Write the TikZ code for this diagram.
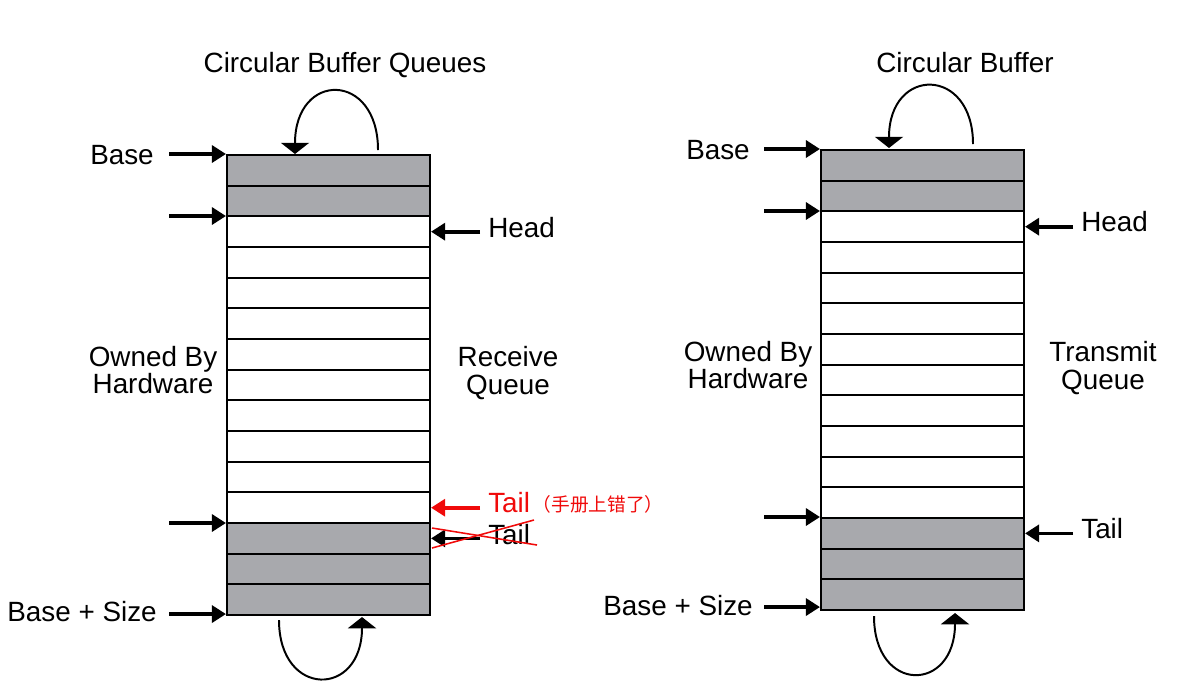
\documentclass[tikz,border=0pt]{standalone}
\usepackage{fontspec}
\setmainfont{Liberation Sans}
\newfontfamily\cjk{Noto Sans CJK SC}
\usepackage{tikz}
\usetikzlibrary{arrows.meta,calc}
\definecolor{cellgray}{RGB}{168,169,173}
\definecolor{tailred}{RGB}{240,10,10}

\tikzset{
  cell/.style={draw, line width=1.4pt, minimum width=5.075cm, minimum height=0.767cm, inner sep=0pt},
  ptr/.style={line width=2.6pt, -{Triangle[length=10pt,width=12pt]}},
  wraparc/.style={line width=1.4pt, -{Triangle[length=8pt,width=20pt]}},
  lbl/.style={font=\fontsize{19.8}{19.5}\selectfont, inner sep=0pt, align=center},
}

\begin{document}
\begin{tikzpicture}[x=0.025cm, y=-0.025cm]
    \useasboundingbox (0,0) rectangle (1200,687);

    % Receive queue (left)
    \foreach \i in {2,...,11}
        \node[cell, fill=white] (L\i) at (328.5,{170.33+30.67*\i}) {};
    \foreach \i in {0,1,12,13,14}
        \node[cell, fill=cellgray] (L\i) at (328.5,{170.33+30.67*\i}) {};

    \node[lbl, anchor=base] (ltitle) at (345,72) {Circular Buffer Queues};
    \node[lbl, anchor=base east] (lbase) at (154,164) {Base};
    \node[lbl, anchor=base east] (lsize) at (157,621) {Base + Size};
    \node[lbl] (lown) at (153,370) {Owned By\\Hardware};
    \node[lbl] (lrecv) at (508,373) {Receive\\Queue};
    \node[lbl, anchor=base west] (lhead) at (488,237) {Head};
    \node[lbl, anchor=base west, text=tailred] (ltailr) at (488,512) {Tail};
    \node[anchor=base west, inner sep=0pt, text=tailred, font=\cjk\fontsize{13.3}{15}\selectfont] (lnote) at ($(ltailr.base east)+(2,-1)$) {（手册上错了）};
    \node[lbl, anchor=base west] (ltail) at (488,544) {Tail};

    \coordinate (lp2) at (169,216);
    \coordinate (lp12) at (169,523);

    \draw[ptr] ($(lbase.east |- L0.north west)+(15,0)$) -- (L0.north west);
    \draw[ptr] (lp2) -- (lp2 -| L2.west);
    \draw[ptr] (lp12) -- (lp12 -| L12.west);
    \draw[ptr] ($(lsize.east |- L14.south west)+(12,-2)$) -- ($(L14.south west)+(0,-2)$);
    \draw[ptr] ($(lhead.west |- L2.east)+(-8,0)$) -- (L2.east);
    \draw[ptr, tailred] ($(ltailr.west |- L11.east)+(-8,0)$) -- (L11.east);
    \draw[ptr] ($(ltail.west |- L12.east)+(-8,0)$) -- (L12.east);

    % crossed out
    \draw[tailred, line width=1.1pt] (432,528) -- (537,545);
    \draw[tailred, line width=1.1pt] (432,548) -- (534,520);

    \draw[wraparc] ($(L0.north)+(49.5,-4)$) .. controls +(0,-79) and +(0,-83) .. ($(L0.north)+(-33.5,0)$);
    \draw[wraparc] ($(L14.south)+(-49.5,4)$) .. controls +(0,78) and +(0,81) .. ($(L14.south)+(33.5,1)$);

    % Transmit queue (right)
    \foreach \i in {2,...,11}
        \node[cell, fill=white] (R\i) at (922.5,{165.33+30.67*\i}) {};
    \foreach \i in {0,1,12,13,14}
        \node[cell, fill=cellgray] (R\i) at (922.5,{165.33+30.67*\i}) {};

    \node[lbl, anchor=base] (rtitle) at (965,72) {Circular Buffer};
    \node[lbl, anchor=base east] (rbase) at (750,159) {Base};
    \node[lbl, anchor=base east] (rsize) at (753,615) {Base + Size};
    \node[lbl] (rown) at (748,365) {Owned By\\Hardware};
    \node[lbl] (rsend) at (1103,368) {Transmit\\Queue};
    \node[lbl, anchor=base west] (rhead) at (1081,231) {Head};
    \node[lbl, anchor=base west] (rtail) at (1081,538) {Tail};

    \coordinate (rp2) at (764,211);
    \coordinate (rp12) at (764,517);

    \draw[ptr] ($(rbase.east |- R0.north west)+(14,0)$) -- (R0.north west);
    \draw[ptr] (rp2) -- (rp2 -| R2.west);
    \draw[ptr] (rp12) -- (rp12 -| R12.west);
    \draw[ptr] ($(rsize.east |- R14.south west)+(11,-4)$) -- ($(R14.south west)+(0,-4)$);
    \draw[ptr] ($(rhead.west |- R2.east)+(-8,0)$) -- (R2.east);
    \draw[ptr] ($(rtail.west |- R12.east)+(-8,0)$) -- (R12.east);

    \draw[wraparc] ($(R0.north)+(50.5,-5)$) .. controls +(0,-78) and +(0,-82) .. ($(R0.north)+(-33.5,-1)$);
    \draw[wraparc] ($(R14.south)+(-48.5,5)$) .. controls +(0,78) and +(0,80) .. ($(R14.south)+(32.5,2)$);
\end{tikzpicture}
\end{document}
